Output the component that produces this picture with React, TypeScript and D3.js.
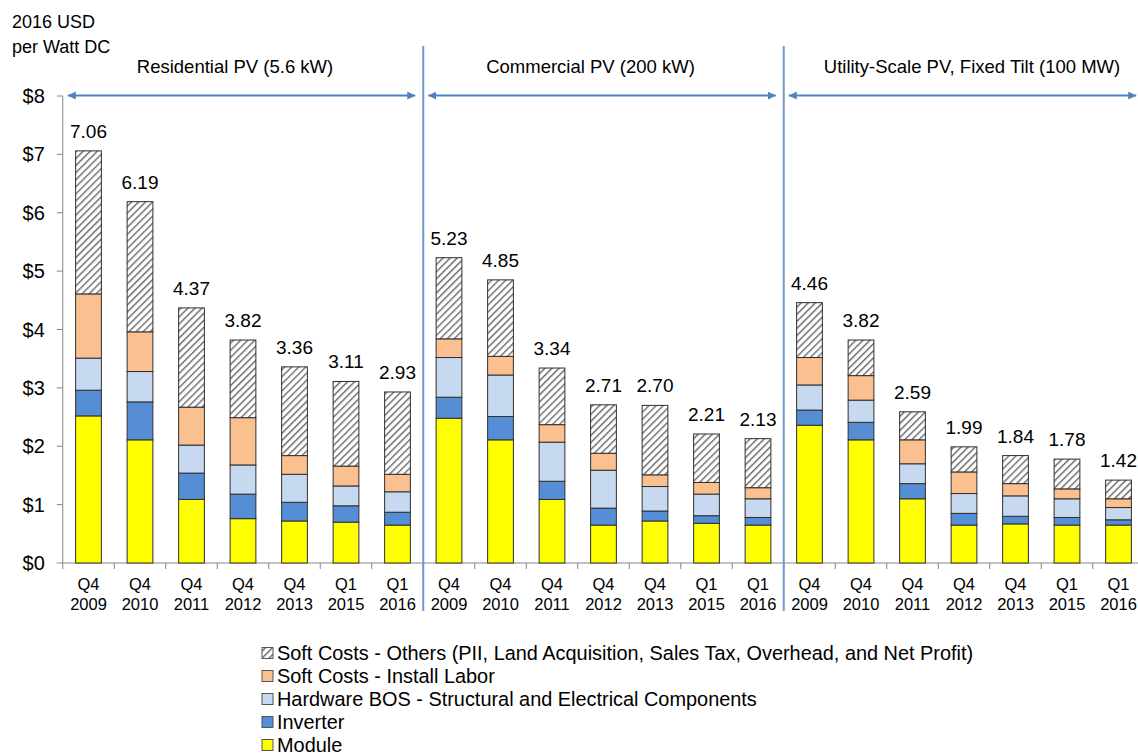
import * as d3 from 'd3'

// quarters on the x axis (two-line labels)
const quarters = ['Q4', 'Q4', 'Q4', 'Q4', 'Q4', 'Q1', 'Q1']
const years = ['2009', '2010', '2011', '2012', '2013', '2015', '2016']

const sectors = ['Residential PV (5.6 kW)', 'Commercial PV (200 kW)', 'Utility-Scale PV, Fixed Tilt (100 MW)']

// $/W DC, residential | commercial | utility, in the same quarter order
const moduleCost = [2.52, 2.11, 1.09, 0.76, 0.72, 0.7, 0.65, 2.48, 2.11, 1.09, 0.65, 0.72, 0.68, 0.65, 2.36, 2.11, 1.1, 0.65, 0.67, 0.65, 0.65]
const inverterCost = [0.44, 0.65, 0.45, 0.42, 0.32, 0.28, 0.22, 0.36, 0.4, 0.31, 0.29, 0.17, 0.13, 0.13, 0.26, 0.3, 0.26, 0.2, 0.13, 0.13, 0.09]
const bosCost = [0.55, 0.52, 0.48, 0.5, 0.48, 0.34, 0.35, 0.68, 0.71, 0.67, 0.65, 0.42, 0.37, 0.32, 0.43, 0.38, 0.34, 0.34, 0.35, 0.32, 0.21]
const laborCost = [1.1, 0.68, 0.65, 0.81, 0.32, 0.34, 0.3, 0.32, 0.32, 0.3, 0.29, 0.2, 0.2, 0.19, 0.47, 0.42, 0.41, 0.37, 0.21, 0.17, 0.15]
const otherSoftCost = [2.45, 2.23, 1.7, 1.33, 1.52, 1.45, 1.41, 1.39, 1.31, 0.97, 0.83, 1.19, 0.83, 0.84, 0.94, 0.61, 0.48, 0.43, 0.48, 0.51, 0.32]
const totals = ['7.06', '6.19', '4.37', '3.82', '3.36', '3.11', '2.93', '5.23', '4.85', '3.34', '2.71', '2.70', '2.21', '2.13', '4.46', '3.82', '2.59', '1.99', '1.84', '1.78', '1.42']

const yTicks = [0, 1, 2, 3, 4, 5, 6, 7, 8]

const seriesNames = [
  'Module',
  'Inverter',
  'Hardware BOS - Structural and Electrical Components',
  'Soft Costs - Install Labor',
  'Soft Costs - Others (PII, Land Acquisition, Sales Tax, Overhead, and Net Profit)',
]
const seriesFill = ['#FFFF00', '#558ED5', '#C6D9F1', '#FAC090', 'url(#hatch)']

const FONT = '"Liberation Sans", Arial, sans-serif'

export default function App() {
  const width = 1138
  const height = 755
  const left = 62.75
  const right = 1144.25
  const top = 96
  const bottom = 563

  const ids = d3.range(totals.length).map(String)
  const x = d3.scaleBand().domain(ids).range([left, right]).paddingInner(0.5).paddingOuter(0.25)
  const y = d3.scaleLinear().domain([0, 8]).range([bottom, top])
  const step = x.step()
  const groupSize = quarters.length

  const rows = ids.map((id, i) => ({
    id,
    0: moduleCost[i],
    1: inverterCost[i],
    2: bosCost[i],
    3: laborCost[i],
    4: otherSoftCost[i],
  }))
  const stacked = d3.stack<any>().keys(['0', '1', '2', '3', '4'])(rows)

  const boundary = (i: number) => (x(String(i)) as number) - step * 0.25
  const groupStart = [0, 1, 2].map((g) => (g === 0 ? left : boundary(g * groupSize)))
  const groupEnd = [0, 1, 2].map((g) => (g === 2 ? right : boundary((g + 1) * groupSize)))
  const titleShift = [-8, -13, 8]

  const legendOrder = [4, 3, 2, 1, 0]

  return (
    <svg width={width} height={height} style={{ position: 'absolute', left: 0, top: 0 }} fontFamily={FONT}>
      <defs>
        <pattern id="hatch" width={5} height={5} patternUnits="userSpaceOnUse" patternTransform="rotate(45)">
          <rect width={5} height={5} fill="#fff" />
          <line x1={0} y1={0} x2={0} y2={5} stroke="#666" strokeWidth={2.8} />
        </pattern>
        <marker id="arrow" viewBox="0 0 10 10" refX={10} refY={5} markerWidth={4} markerHeight={4.4} orient="auto-start-reverse">
          <path d="M0,0 L10,5 L0,10 Z" fill="#4F81BD" />
        </marker>
      </defs>
      <rect width={width} height={height} fill="#fff" />

      <text x={12} y={28} fontSize={18} fill="#000">2016 USD</text>
      <text x={12} y={53} fontSize={18} fill="#000">per Watt DC</text>

      {/* y axis */}
      <line x1={left} x2={left} y1={top} y2={bottom} stroke="#868686" />
      {yTicks.map((t) => (
        <g key={t}>
          <line x1={left - 6} x2={left} y1={y(t)} y2={y(t)} stroke="#868686" />
          <text x={left - 18} y={y(t)} dy="0.35em" textAnchor="end" fontSize={20} fill="#000">
            ${t}
          </text>
        </g>
      ))}

      {/* x axis */}
      <line x1={left} x2={right} y1={bottom} y2={bottom} stroke="#868686" />
      {d3.range(totals.length + 1).map((i) => {
        const bx = i === 0 ? left : i === totals.length ? right : boundary(i)
        return <line key={i} x1={bx} x2={bx} y1={bottom} y2={bottom + 6} stroke="#868686" />
      })}
      {ids.map((id, i) => {
        const cx = (x(id) as number) + x.bandwidth() / 2
        return (
          <g key={id} fontSize={16.5} textAnchor="middle" fill="#000">
            <text x={cx} y={590}>{quarters[i % groupSize]}</text>
            <text x={cx} y={610}>{years[i % groupSize]}</text>
          </g>
        )
      })}

      {/* stacked bars */}
      {stacked.map((layer, si) => (
        <g key={si} fill={seriesFill[si]} stroke="#2f2f2f" strokeWidth={1}>
          {layer.map((d, i) => (
            <rect key={i} x={x(ids[i])} width={x.bandwidth()} y={y(d[1])} height={y(d[0]) - y(d[1])} />
          ))}
        </g>
      ))}

      {/* total labels */}
      {ids.map((id, i) => (
        <text
          key={id}
          x={(x(id) as number) + x.bandwidth() / 2}
          y={y(stacked[4][i][1]) - 13}
          textAnchor="middle"
          fontSize={19}
          fill="#000"
        >
          {totals[i]}
        </text>
      ))}

      {/* sector separators, arrows and titles */}
      {[1, 2].map((g) => (
        <line key={g} x1={groupStart[g]} x2={groupStart[g]} y1={46} y2={611} stroke="#6F98CE" strokeWidth={2} />
      ))}
      {sectors.map((s, g) => (
        <g key={s}>
          <line
            x1={groupStart[g] + 5}
            x2={groupEnd[g] - 8}
            y1={top - 0.5}
            y2={top - 0.5}
            stroke="#4F81BD"
            strokeWidth={2}
            markerStart="url(#arrow)"
            markerEnd="url(#arrow)"
          />
          <text
            x={(groupStart[g] + groupEnd[g]) / 2 + titleShift[g]}
            y={73}
            textAnchor="middle"
            fontSize={18.5}
            fill="#000"
          >
            {s}
          </text>
        </g>
      ))}

      {/* legend */}
      {legendOrder.map((si, k) => {
        const ly = 653 + k * 23
        return (
          <g key={si}>
            <rect x={262} y={ly - 5.5} width={11} height={11} fill={seriesFill[si]} stroke="#555" strokeWidth={1} />
            <text x={277} y={ly} dy="0.35em" fontSize={19.9} fill="#000">
              {seriesNames[si]}
            </text>
          </g>
        )
      })}
    </svg>
  )
}
